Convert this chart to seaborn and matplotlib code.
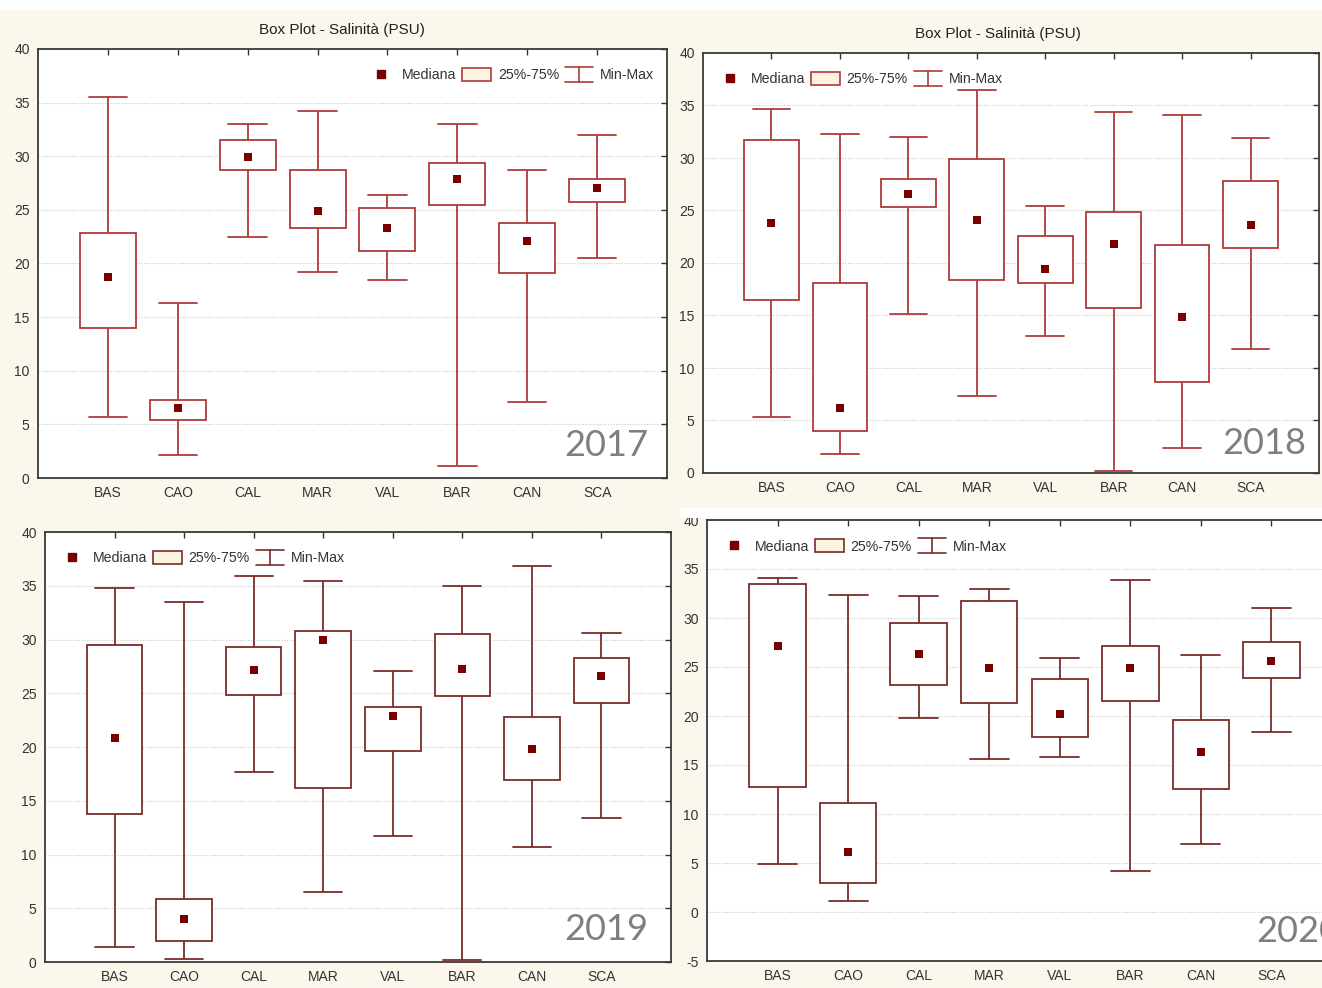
import numpy as np
import pandas as pd
import seaborn as sns
import matplotlib
matplotlib.use("Agg")
import matplotlib.pyplot as plt
from matplotlib.lines import Line2D
from matplotlib.patches import Patch, Rectangle
from matplotlib.legend_handler import HandlerBase

# ---------------- data ----------------
sites = ["BAS", "CAO", "CAL", "MAR", "VAL", "BAR", "CAN", "SCA"]

min_2017 = [5.7, 2.1, 22.5, 19.2, 18.5, 1.1, 7.1, 20.5]
q1_2017 = [14.0, 5.4, 28.7, 23.3, 21.2, 25.5, 19.1, 25.7]
med_2017 = [18.7, 6.5, 29.9, 24.9, 23.3, 27.9, 22.1, 27.0]
q3_2017 = [22.8, 7.3, 31.5, 28.7, 25.2, 29.4, 23.8, 27.9]
max_2017 = [35.5, 16.3, 33.0, 34.2, 26.4, 33.0, 28.7, 32.0]

min_2018 = [5.3, 1.8, 15.1, 7.3, 13.0, 0.2, 2.4, 11.8]
q1_2018 = [16.5, 4.0, 25.3, 18.4, 18.1, 15.7, 8.7, 21.4]
med_2018 = [23.8, 6.2, 26.6, 24.1, 19.4, 21.8, 14.9, 23.6]
q3_2018 = [31.7, 18.1, 28.0, 29.9, 22.6, 24.9, 21.7, 27.8]
max_2018 = [34.7, 32.3, 32.0, 36.5, 25.4, 34.4, 34.1, 31.9]

min_2019 = [1.4, 0.3, 17.7, 6.5, 11.7, 0.2, 10.7, 13.4]
q1_2019 = [13.8, 2.0, 24.8, 16.2, 19.6, 24.7, 16.9, 24.1]
med_2019 = [20.8, 4.0, 27.2, 30.0, 22.9, 27.3, 19.8, 26.6]
q3_2019 = [29.5, 5.9, 29.3, 30.8, 23.7, 30.5, 22.8, 28.3]
max_2019 = [34.8, 33.5, 35.9, 35.4, 27.1, 35.0, 36.8, 30.6]

min_2020 = [4.9, 1.1, 19.8, 15.6, 15.8, 4.2, 6.9, 18.4]
q1_2020 = [12.8, 3.0, 23.2, 21.3, 17.9, 21.5, 12.6, 23.9]
med_2020 = [27.1, 6.1, 26.3, 24.9, 20.2, 24.9, 16.3, 25.6]
q3_2020 = [33.5, 11.1, 29.5, 31.7, 23.8, 27.1, 19.6, 27.6]
max_2020 = [34.1, 32.3, 32.2, 33.0, 25.9, 33.9, 26.2, 31.0]

years = ["2017", "2018", "2019", "2020"]
title_text = "Box Plot - Salinità (PSU)"
legend_labels = ["Mediana", "25%-75%", "Min-Max"]

stats = {
    "2017": (min_2017, q1_2017, med_2017, q3_2017, max_2017),
    "2018": (min_2018, q1_2018, med_2018, q3_2018, max_2018),
    "2019": (min_2019, q1_2019, med_2019, q3_2019, max_2019),
    "2020": (min_2020, q1_2020, med_2020, q3_2020, max_2020),
}

# ---------------- style ----------------
sns.set_style("white")
plt.rcParams["font.family"] = ["Liberation Sans", "DejaVu Sans"]

W, H = 1322, 988
fig = plt.figure(figsize=(W / 100, H / 100), dpi=100, facecolor="#fcf7ec")

def px_axes(x0, y0, x1, y1):
    return fig.add_axes([x0 / W, 1 - y1 / H, (x1 - x0) / W, (y1 - y0) / H])

# top white strip
fig.patches.append(Rectangle((0, 1 - 10 / H), 1, 10 / H, transform=fig.transFigure,
                             facecolor="white", edgecolor="none", zorder=0))

panels = {
    "2017": dict(box=(38, 49, 667, 478), ylim=(0, 40), color="#b03a3a",
                 legend=("upper right", (1.0, 0.985)), title=(342, 30),
                 year=(648, 445, "right")),
    "2018": dict(box=(703, 53, 1319, 473), ylim=(0, 40), color="#b03a3a",
                 legend=("upper left", (0.0, 0.985)), title=(998, 34),
                 year=(1306, 443, "right")),
    "2019": dict(box=(45, 532, 671, 962), ylim=(0, 40), color="#7a2c2c",
                 legend=("upper left", (0.0, 0.985)), title=None,
                 year=(648, 929, "right")),
    "2020": dict(box=(707, 520, 1342, 961), ylim=(-5, 40), color="#7a2c2c",
                 legend=("upper left", (0.0, 0.985)), title=None,
                 year=(1256, 931, "left")),
}


class HandlerIBeam(HandlerBase):
    def create_artists(self, legend, orig_handle, xdescent, ydescent, width,
                       height, fontsize, trans):
        c = orig_handle.get_color()
        x0, x1 = -xdescent, width - xdescent
        y0, y1 = -ydescent - 1, height - ydescent + 1
        cx = (x0 + x1) / 2
        arts = [Line2D([cx, cx], [y0, y1]), Line2D([x0, x1], [y0, y0]),
                Line2D([x0, x1], [y1, y1])]
        for a in arts:
            a.set_color(c)
            a.set_linewidth(1.2)
            a.set_transform(trans)
        return arts


for yr in years:
    p = panels[yr]
    mn, q1, md, q3, mx = stats[yr]
    rows = []
    for i, s in enumerate(sites):
        for v in (mn[i], q1[i], md[i], q3[i], mx[i]):
            rows.append((s, v))
    df = pd.DataFrame(rows, columns=["site", "value"])
    med_df = pd.DataFrame({"site": sites, "median": md})

    ax = px_axes(*p["box"])
    ax.set_facecolor("white")
    col = p["color"]
    sns.boxplot(data=df, x="site", y="value", order=sites, whis=(0, 100),
                color="white", linecolor=col, linewidth=1.3, width=0.8,
                saturation=1, showfliers=False, capwidths=0.55,
                medianprops={"visible": False}, ax=ax)
    sns.stripplot(data=med_df, x="site", y="median", order=sites, jitter=False,
                  marker="s", size=5.5, color="#7a0000", linewidth=0,
                  zorder=5, ax=ax)

    ax.set_xlim(-1, 8)
    ax.set_ylim(*p["ylim"])
    ax.set_yticks(np.arange(p["ylim"][0], 40.1, 5))
    ax.set_yticklabels([f"{int(v)}" for v in np.arange(p["ylim"][0], 40.1, 5)])
    ax.set_xlabel("")
    ax.set_ylabel("")
    ax.yaxis.grid(True, linestyle=(0, (1, 1.5)), color="#c8c8c8", linewidth=0.8)
    ax.xaxis.grid(False)
    ax.set_axisbelow(True)
    ax.tick_params(direction="in", top=True, right=True, length=4, width=1,
                   color="#333333", labelsize=10, labelcolor="#333333", pad=6)
    for sp in ax.spines.values():
        sp.set_color("#3a3a3a")
        sp.set_linewidth(1.3)

    handles = [
        Line2D([], [], marker="s", linestyle="none", markersize=5.5,
               color="#7a0000"),
        Patch(facecolor="#fdf3e1", edgecolor=col, linewidth=1.2),
        Line2D([], [], color=col),
    ]
    loc, anchor = p["legend"]
    ax.legend(handles, legend_labels, loc=loc, bbox_to_anchor=anchor, ncol=3,
              frameon=False, fontsize=10.2, handlelength=2.0, handleheight=1.0,
              handletextpad=0.5, columnspacing=0.4, borderaxespad=0.5,
              handler_map={handles[2]: HandlerIBeam()},
              labelcolor="#333333")

    if p["title"] is not None:
        tx, ty = p["title"]
        fig.text(tx / W, 1 - ty / H, title_text, ha="center", va="center",
                 fontsize=11, color="#222222")

    yx, yy, ha = p["year"]
    fig.text(yx / W, 1 - yy / H, yr, ha=ha, va="center", fontsize=26,
             color="#7f7f7f", family=["Lato", "DejaVu Sans"])

# white gap hiding the top of the 2020 panel
fig.patches.append(Rectangle((680 / W, 1 - 518 / H), 1, 10 / H,
                             transform=fig.transFigure, facecolor="white",
                             edgecolor="none", zorder=10))

fig.savefig("out.png", dpi=100, facecolor=fig.get_facecolor())
